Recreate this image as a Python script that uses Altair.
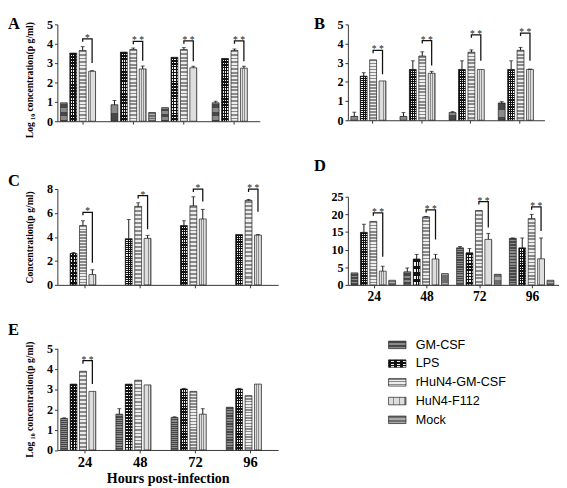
import altair as alt
import pandas as pd

HOURS = ["24", "48", "72", "96"]
TREATS = ["GM-CSF", "LPS", "rHuN4-GM-CSF", "HuN4-F112", "Mock"]

# ---------------- Panel A (log10 concentration) ----------------
A_GM = [0.95, 0.85, 0.70, 0.95]
A_GM_ERR = [0.0, 0.22, 0.0, 0.08]
A_LPS = [3.52, 3.57, 3.30, 3.24]
A_LPS_ERR = [0.0, 0.0, 0.0, 0.0]
A_RH = [3.65, 3.70, 3.70, 3.65]
A_RH_ERR = [0.20, 0.08, 0.10, 0.08]
A_F112 = [2.58, 2.70, 2.76, 2.74]
A_F112_ERR = [0.03, 0.15, 0.08, 0.10]
A_MOCK = [0.0, 0.45, 0.0, 0.0]
A_MOCK_ERR = [0.0, 0.0, 0.0, 0.0]
A_BR_TOP = [4.25, 4.12, 4.15, 4.15]
A_BR_END = [3.0, 3.12, 3.1, 3.1]
A_STARS = ["*", "* *", "* *", "* *"]

# ---------------- Panel B (log10 concentration) ----------------
B_GM = [0.20, 0.20, 0.40, 0.90]
B_GM_ERR = [0.22, 0.20, 0.05, 0.07]
B_LPS = [2.30, 2.65, 2.65, 2.65]
B_LPS_ERR = [0.18, 0.45, 0.45, 0.45]
B_RH = [3.15, 3.35, 3.55, 3.65]
B_RH_ERR = [0.0, 0.22, 0.12, 0.15]
B_F112 = [2.05, 2.45, 2.65, 2.65]
B_F112_ERR = [0.0, 0.10, 0.0, 0.02]
B_MOCK = [0.0, 0.0, 0.0, 0.0]
B_MOCK_ERR = [0.0, 0.0, 0.0, 0.0]
B_BR_TOP = [3.65, 4.15, 4.45, 4.55]
B_BR_END = [2.4, 2.85, 3.1, 3.1]
B_STARS = ["* *", "* *", "* *", "* *"]

# ---------------- Panel C (concentration) ----------------
C_GM = [0.0, 0.0, 0.0, 0.0]
C_GM_ERR = [0.0, 0.0, 0.0, 0.0]
C_LPS = [2.62, 3.85, 4.95, 4.20]
C_LPS_ERR = [0.08, 1.60, 0.40, 0.0]
C_RH = [4.95, 6.55, 6.60, 7.05]
C_RH_ERR = [0.40, 0.30, 0.75, 0.08]
C_F112 = [0.86, 3.88, 5.50, 4.15]
C_F112_ERR = [0.40, 0.25, 0.80, 0.05]
C_MOCK = [0.0, 0.0, 0.0, 0.0]
C_MOCK_ERR = [0.0, 0.0, 0.0, 0.0]
C_BR_TOP = [6.05, 7.45, 8.0, 8.0]
C_BR_END = [1.85, 4.65, 6.95, 6.1]
C_STARS = ["*", "*", "*", "* *"]

# ---------------- Panel D (concentration) ----------------
D_GM = [3.4, 3.7, 10.5, 13.2]
D_GM_ERR = [0.0, 1.1, 0.4, 0.1]
D_LPS = [14.9, 7.35, 9.1, 10.5]
D_LPS_ERR = [2.3, 1.3, 1.2, 2.8]
D_RH = [18.0, 19.3, 21.1, 18.8]
D_RH_ERR = [0.0, 0.1, 0.0, 1.2]
D_F112 = [3.9, 7.35, 12.9, 7.4]
D_F112_ERR = [1.4, 1.3, 1.7, 5.9]
D_MOCK = [1.3, 3.2, 3.0, 1.3]
D_MOCK_ERR = [0.0, 0.0, 0.0, 0.0]
D_BR_TOP = [20.4, 21.3, 23.6, 22.1]
D_BR_END = [8.0, 12.9, 16.3, 15.3]
D_STARS = ["* *", "* *", "* *", "* *"]

# ---------------- Panel E (log10 concentration) ----------------
E_GM = [1.55, 1.76, 1.60, 2.10]
E_GM_ERR = [0.03, 0.27, 0.03, 0.0]
E_LPS = [3.24, 3.24, 3.00, 3.00]
E_LPS_ERR = [0.0, 0.0, 0.03, 0.03]
E_RH = [3.87, 3.43, 2.88, 2.67]
E_RH_ERR = [0.0, 0.0, 0.0, 0.0]
E_F112 = [2.88, 3.20, 1.76, 3.24]
E_F112_ERR = [0.0, 0.0, 0.27, 0.0]
E_MOCK = [0.0, 0.0, 0.0, 0.0]
E_MOCK_ERR = [0.0, 0.0, 0.0, 0.0]
E_BR_TOP = [4.39, None, None, None]
E_BR_END = [3.24, None, None, None]
E_STARS = ["* *", None, None, None]

LOG_TITLE = "Log \u2081\u2080 concentration(p g/ml)"
CONC_TITLE = "Concentration(p g/ml)"
X_TITLE = "Hours post-infection"
SERIF = "Liberation Serif"


def grad(stops, vertical_lines=False):
    st = [alt.GradientStop(color=c, offset=o) for o, c in stops]
    if vertical_lines:
        return alt.LinearGradient(gradient="linear", stops=st, x1=0, x2=1, y1=0, y2=0)
    return alt.LinearGradient(gradient="linear", stops=st, x1=0, x2=0, y1=0, y2=1)


def stripes(c1, c2, n, vertical_lines=False, frac=0.5):
    stops = []
    for i in range(n):
        a, b, c = i / n, (i + frac) / n, (i + 1) / n
        stops += [(a, c1), (b, c1), (b, c2), (c, c2)]
    return grad(stops, vertical_lines)


def fills(scale):
    return {
        "GM-CSF": stripes("#474747", "#8a8a8a", max(2, int(16 * scale))),
        "LPS": stripes("#111111", "#f2f2f2", max(2, int(22 * scale))),
        "LPS_v": stripes("#111111", "transparent", 3, vertical_lines=True),
        "rHuN4-GM-CSF": stripes("#8a8a8a", "#ededed", max(2, int(20 * scale))),
        "HuN4-F112": stripes("#dedede", "#8c8c8c", 3, vertical_lines=True, frac=0.72),
        "Mock": stripes("#6e6e6e", "#aaaaaa", max(2, int(12 * scale))),
    }


BAR_FILLS = fills(1.0)
LEG_FILLS = fills(0.18)


def panel_df(series, errors):
    rows = []
    for t, vals, errs in zip(TREATS, series, errors):
        for h, v, e in zip(HOURS, vals, errs):
            rows.append({"hour": h, "treat": t, "value": v, "err": e, "hi": v + e})
    return pd.DataFrame(rows)


def bracket_dfs(tops, ends, stars, drop):
    rows, srows = [], []
    for h, top, end, s in zip(HOURS, tops, ends, stars):
        if top is None:
            continue
        rows += [
            {"hour": h, "treat": "rHuN4-GM-CSF", "y": top - drop, "o": 0},
            {"hour": h, "treat": "rHuN4-GM-CSF", "y": top, "o": 1},
            {"hour": h, "treat": "HuN4-F112", "y": top, "o": 2},
            {"hour": h, "treat": "HuN4-F112", "y": end, "o": 3},
        ]
        srows.append({"hour": h, "treat": "rHuN4-GM-CSF", "y": top, "stars": s})
    return pd.DataFrame(rows), pd.DataFrame(srows)


def panel(df, br, st, ymax, yvals, width, height, rtop, ytitle, title_y,
          letter, lx, ly, xlabels=False, xtitle=None, xlabel_size=14):
    xaxis = alt.Axis(labels=xlabels, title=xtitle, tickSize=3, labelFontSize=xlabel_size,
                     labelPadding=2, titleFontSize=14.5, titlePadding=3, labelAngle=0)
    X = alt.X("hour:N", scale=alt.Scale(domain=HOURS, paddingInner=0.12, paddingOuter=0.06), axis=xaxis)
    XO = alt.XOffset("treat:N", scale=alt.Scale(domain=TREATS, paddingInner=0.27, paddingOuter=0))
    ykw = dict(values=yvals, title=ytitle, tickSize=3, labelFontSize=12.5, labelPadding=2,
               titleFontSize=10, titlePadding=12)
    if title_y is not None:
        ykw["titleY"] = title_y
    yaxis = alt.Axis(**ykw)
    yscale = alt.Scale(domain=[0, ymax], range=[height, rtop], nice=False, zero=True)

    def Y(field):
        return alt.Y(field, scale=yscale, axis=yaxis, title=ytitle)

    base = alt.Chart(df)
    layers = []
    for t in TREATS:
        sub = base.transform_filter((alt.datum.treat == t) & (alt.datum.value > 0))
        layers.append(sub.mark_bar(fill=BAR_FILLS[t], stroke="#1a1a1a", strokeWidth=0.7)
                      .encode(x=X, xOffset=XO, y=Y("value:Q")))
        if t == "LPS":
            layers.append(sub.mark_bar(fill=BAR_FILLS["LPS_v"], strokeWidth=0)
                          .encode(x=X, xOffset=XO, y=Y("value:Q")))
    eb = base.transform_filter(alt.datum.err > 0)
    layers.append(eb.mark_rule(color="#111111", strokeWidth=1)
                  .encode(x=X, xOffset=XO, y=Y("value:Q"), y2="hi:Q"))
    layers.append(eb.mark_tick(color="#111111", size=4, thickness=1)
                  .encode(x=X, xOffset=XO, y=Y("hi:Q")))
    if len(br):
        layers.append(alt.Chart(br).mark_line(color="#111111", strokeWidth=1.3)
                      .encode(x=X, xOffset=XO, y=Y("y:Q"), detail="hour:N", order="o:Q"))
        layers.append(alt.Chart(st).mark_text(dx=4.8, dy=2, baseline="alphabetic", font=SERIF,
                                              fontWeight="normal", fontSize=10, color="#222222")
                      .encode(x=X, xOffset=XO, y=Y("y:Q"), text="stars:N"))
    layers.append(alt.Chart(pd.DataFrame({"t": [letter]}))
                  .mark_text(align="left", baseline="middle", font=SERIF, fontWeight="bold",
                             fontSize=17, color="black")
                  .encode(x=alt.value(lx), y=alt.value(ly), text="t:N"))
    return alt.layer(*layers).properties(width=width, height=height)


def build(prefix, tops, ends, stars, drop):
    g = globals()
    series = [g[prefix + s] for s in ["GM", "LPS", "RH", "F112", "MOCK"]]
    errors = [g[prefix + s + "_ERR"] for s in ["GM", "LPS", "RH", "F112", "MOCK"]]
    df = panel_df(series, errors)
    br, st = bracket_dfs(tops, ends, stars, drop)
    return df, br, st


dfA, brA, stA = build("A_", A_BR_TOP, A_BR_END, A_STARS, 0.15)
dfB, brB, stB = build("B_", B_BR_TOP, B_BR_END, B_STARS, 0.15)
dfC, brC, stC = build("C_", C_BR_TOP, C_BR_END, C_STARS, 0.25)
dfD, brD, stD = build("D_", D_BR_TOP, D_BR_END, D_STARS, 0.8)
dfE, brE, stE = build("E_", E_BR_TOP, E_BR_END, E_STARS, 0.15)

pA = panel(dfA, brA, stA, 5, [0, 1, 2, 3, 4, 5], 209, 105, 5, LOG_TITLE, 62, "A", -51, 5)
pB = panel(dfB, brB, stB, 5, [0, 1, 2, 3, 4, 5], 203, 104, 5, None, None, "B", -35, 5)
pC = panel(dfC, brC, stC, 8, [0, 2, 4, 6, 8], 228, 116, 17, CONC_TITLE, None, "C", -51, 9)
pD = panel(dfD, brD, stD, 25, [0, 5, 10, 15, 20, 25], 218, 116, 25, None, None, "D", -35, -6.5,
           xlabels=True, xlabel_size=14)
pE = panel(dfE, brE, stE, 5, [0, 1, 2, 3, 4, 5], 228, 125.5, 20.5, LOG_TITLE, None, "E", -51, 2,
           xlabels=True, xtitle=X_TITLE, xlabel_size=15)

# ---------------- Legend panel ----------------
leg_df = pd.DataFrame({"treat": TREATS})
LY = alt.Y("treat:N", sort=TREATS, axis=None,
           scale=alt.Scale(domain=TREATS, range=[7.3, 104.0], paddingInner=0.6, paddingOuter=0.3))
leg_layers = []
for t in TREATS:
    sub = alt.Chart(leg_df).transform_filter(alt.datum.treat == t)
    leg_layers.append(sub.mark_rect(fill=LEG_FILLS[t], stroke="#1a1a1a", strokeWidth=0.7)
                      .encode(y=LY, x=alt.value(42), x2=alt.value(60)))
    if t == "LPS":
        leg_layers.append(sub.mark_rect(fill=LEG_FILLS["LPS_v"], strokeWidth=0)
                          .encode(y=LY, x=alt.value(42), x2=alt.value(60)))
leg_layers.append(alt.Chart(leg_df).mark_text(align="left", baseline="middle",
                                              font="Liberation Sans", fontSize=13, color="black")
                  .encode(y=LY, x=alt.value(70), text="treat:N"))
pL = alt.layer(*leg_layers).properties(width=170, height=112)

chart = (
    alt.concat(pA, pB, pC, pD, pE, pL, columns=2, spacing={"row": 19, "column": 37})
    .properties(padding={"left": 0, "top": 0, "right": 0, "bottom": 0})
    .configure_view(stroke=None)
    .configure_axis(labelFont=SERIF, labelFontWeight="bold", titleFont=SERIF,
                    titleFontWeight="bold", labelColor="black", titleColor="black",
                    domainColor="#333333", tickColor="#333333", grid=False)
)

chart.save("out.html", embed_options={"renderer": "svg", "actions": False})
